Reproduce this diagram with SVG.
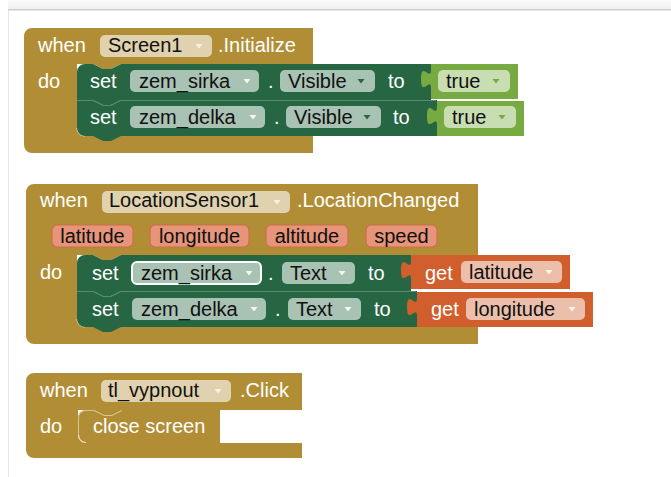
<svg xmlns="http://www.w3.org/2000/svg" width="671" height="477" viewBox="0 0 671 477">
  <style>
    text { font-family: "Liberation Sans", Arial, sans-serif; font-size: 20px; }
    .lbl { fill: #ffffff; }
    .ftx { fill: #111111; }
    .event { fill: #B18E35; }
    .setter { fill: #266643; }
    .logic { fill: #77AB41; }
    .getter { fill: #D05F2D; }
    .pill-ev { fill: #E0D2AE; }
    .pill-set { fill: #A8C2B4; }
    .pill-logic { fill: #C9DDB3; }
    .pill-get { fill: #ECBFAB; }
    .param { fill: #E6947A; stroke: #CE6E48; stroke-width: 1.2; }
    .seam { fill: none; stroke: #5A8C70; stroke-width: 1; }
    .corner { fill: none; stroke: #EFE3C2; stroke-width: 1.2; }
    .arr-light { fill: #F6F1E4; }
    .arr-white { fill: #FFFFFF; opacity: 0.85; }
    .arr-green { fill: #266643; }
    .arr-logic { fill: #77AB41; }
  </style>
  <defs>
    <linearGradient id="topband" x1="0" y1="0" x2="0" y2="1">
      <stop offset="0" stop-color="#FBFBFB"/>
      <stop offset="1" stop-color="#EFEFEF"/>
    </linearGradient>
    <!-- dropdown arrow, centred on (0,0) -->
    <polygon id="arrow" points="-3.5,-2 3.5,-2 0,2.5"/>
  </defs>

  <!-- workspace frame -->
  <rect x="0" y="0" width="671" height="477" fill="#FFFFFF"/>
  <rect x="8" y="0" width="663" height="9" fill="url(#topband)"/>
  <line x1="8" y1="9.5" x2="671" y2="9.5" stroke="#CFCFCF" stroke-width="1"/>
  <line x1="8" y1="10.5" x2="671" y2="10.5" stroke="#E6E6E6" stroke-width="1"/>
  <line x1="8.5" y1="10" x2="8.5" y2="477" stroke="#E4E4E4" stroke-width="1"/>

  <!-- when Screen1.Initialize -->
  <g id="screen1-initialize">
    <path class="event" d="M24,36 A8,8 0 0 1 32,28 H313 V64 H121 l-10,5 h-8 l-10,-5 H77 V128 A8,8 0 0 0 85,136 H313 V153 H32 A8,8 0 0 1 24,145 Z"/>
    <path class="corner" d="M77,128 A8,8 0 0 0 85,136"/>
    <text class="lbl" x="38" y="52">when</text>
    <rect class="pill-ev" x="100" y="35" width="112" height="22" rx="5"/>
    <text class="ftx" x="108" y="52">Screen1</text>
    <use href="#arrow" class="arr-light" x="199" y="46"/>
    <text class="lbl" x="218" y="52">.Initialize</text>
    <text class="lbl" x="38" y="88">do</text>
  </g>

  <g id="set-zem-sirka-visible">
    <path class="setter" d="M77,72 A8,8 0 0 1 85,64 H93 l10,5 h8 l10,-5 H431 V100 H121 l-10,5 h-8 l-10,-5 H77 Z"/>
    <text class="lbl" x="90" y="88">set</text>
    <rect class="pill-set" x="130" y="70" width="129" height="22" rx="5"/>
    <text class="ftx" x="139" y="88">zem_sirka</text>
    <use href="#arrow" class="arr-white" x="247" y="81"/>
    <text class="lbl" x="268" y="88">.</text>
    <rect class="pill-set" x="280" y="70" width="95" height="22" rx="5"/>
    <text class="ftx" x="288" y="88">Visible</text>
    <use href="#arrow" class="arr-green" x="361" y="81"/>
    <text class="lbl" x="388" y="88">to</text>
  </g>

  <g id="true-1">
    <path class="logic" d="M431,64 H518 V99 H431 V88 C431,76 421,98 421,79 C421,60 431,82 431,70 Z"/>
    <rect class="pill-logic" x="438" y="70" width="72" height="22" rx="5"/>
    <text class="ftx" x="446" y="88">true</text>
    <use href="#arrow" class="arr-logic" x="496" y="81"/>
  </g>

  <g id="set-zem-delka-visible">
    <path class="setter" d="M77,100 H93 l10,5 h8 l10,-5 H437 V136 H121 l-10,5 h-8 l-10,-5 H85 A8,8 0 0 1 77,128 Z"/>
    <path class="setter" d="M93,99 l10,5 h8 l10,-5 Z"/>
    <path class="seam" d="M77,100.5 H93 l10,5 h8 l10,-5 H436"/>
    <text class="lbl" x="90" y="124">set</text>
    <rect class="pill-set" x="130" y="106" width="135" height="22" rx="5"/>
    <text class="ftx" x="139" y="124">zem_delka</text>
    <use href="#arrow" class="arr-white" x="253" y="117"/>
    <text class="lbl" x="274" y="124">.</text>
    <rect class="pill-set" x="286" y="106" width="95" height="22" rx="5"/>
    <text class="ftx" x="294" y="124">Visible</text>
    <use href="#arrow" class="arr-green" x="367" y="117"/>
    <text class="lbl" x="393" y="124">to</text>
  </g>

  <g id="true-2">
    <path class="logic" d="M437,101 H524 V136 H437 V125 C437,113 427,135 427,116 C427,97 437,119 437,107 Z"/>
    <rect class="pill-logic" x="444" y="106" width="72" height="22" rx="5"/>
    <text class="ftx" x="452" y="124">true</text>
    <use href="#arrow" class="arr-logic" x="502" y="117"/>
  </g>

  <!-- when LocationSensor1.LocationChanged -->
  <g id="locationsensor1-locationchanged">
    <path class="event" d="M26,192 A8,8 0 0 1 34,184 H478 V255 H121 l-10,5 h-8 l-10,-5 H77 V319 A8,8 0 0 0 85,327 H478 V344 H34 A8,8 0 0 1 26,336 Z"/>
    <path class="corner" d="M77,319 A8,8 0 0 0 85,327"/>
    <text class="lbl" x="40" y="207">when</text>
    <rect class="pill-ev" x="102" y="191" width="188" height="22" rx="5"/>
    <text class="ftx" x="109" y="207">LocationSensor1</text>
    <use href="#arrow" class="arr-light" x="277" y="202"/>
    <text class="lbl" x="297" y="207">.LocationChanged</text>
    <rect class="param" x="52" y="225" width="81" height="22" rx="5"/>
    <text class="ftx" x="92.5" y="243" text-anchor="middle">latitude</text>
    <rect class="param" x="150" y="225" width="99" height="22" rx="5"/>
    <text class="ftx" x="199.5" y="243" text-anchor="middle">longitude</text>
    <rect class="param" x="266" y="225" width="82" height="22" rx="5"/>
    <text class="ftx" x="307" y="243" text-anchor="middle">altitude</text>
    <rect class="param" x="366" y="225" width="71" height="22" rx="5"/>
    <text class="ftx" x="401.5" y="243" text-anchor="middle">speed</text>
    <text class="lbl" x="40" y="279">do</text>
  </g>

  <g id="set-zem-sirka-text">
    <path class="setter" d="M77,263 A8,8 0 0 1 85,255 H93 l10,5 h8 l10,-5 H411 V291 H121 l-10,5 h-8 l-10,-5 H77 Z"/>
    <text class="lbl" x="92" y="280">set</text>
    <rect class="pill-set" x="132" y="262" width="129" height="22" rx="5" stroke="#FFFFFF" stroke-width="2"/>
    <text class="ftx" x="141" y="280">zem_sirka</text>
    <use href="#arrow" class="arr-white" x="249" y="273"/>
    <text class="lbl" x="268" y="280">.</text>
    <rect class="pill-set" x="282" y="262" width="73" height="22" rx="5"/>
    <text class="ftx" x="290" y="280">Text</text>
    <use href="#arrow" class="arr-white" x="342" y="273"/>
    <text class="lbl" x="368" y="280">to</text>
  </g>

  <g id="get-latitude">
    <path class="getter" d="M411,255 H570 V289 H411 V279 C411,267 401,289 401,270 C401,251 411,273 411,261 Z"/>
    <text class="lbl" x="425" y="280">get</text>
    <rect class="pill-get" x="461" y="261" width="101" height="22" rx="5"/>
    <text class="ftx" x="469" y="279">latitude</text>
    <use href="#arrow" class="arr-white" x="549" y="272"/>
  </g>

  <g id="set-zem-delka-text">
    <path class="setter" d="M77,291 H93 l10,5 h8 l10,-5 H417 V327 H121 l-10,5 h-8 l-10,-5 H85 A8,8 0 0 1 77,319 Z"/>
    <path class="setter" d="M93,290 l10,5 h8 l10,-5 Z"/>
    <path class="seam" d="M77,291.5 H93 l10,5 h8 l10,-5 H416"/>
    <text class="lbl" x="92" y="316">set</text>
    <rect class="pill-set" x="132" y="298" width="134" height="22" rx="5"/>
    <text class="ftx" x="141" y="316">zem_delka</text>
    <use href="#arrow" class="arr-white" x="254" y="309"/>
    <text class="lbl" x="275" y="316">.</text>
    <rect class="pill-set" x="288" y="298" width="73" height="22" rx="5"/>
    <text class="ftx" x="296" y="316">Text</text>
    <use href="#arrow" class="arr-white" x="348" y="309"/>
    <text class="lbl" x="374" y="316">to</text>
  </g>

  <g id="get-longitude">
    <path class="getter" d="M417,292 H593 V327 H417 V316 C417,304 407,326 407,307 C407,288 417,310 417,298 Z"/>
    <text class="lbl" x="431" y="316">get</text>
    <rect class="pill-get" x="466" y="298" width="119" height="22" rx="5"/>
    <text class="ftx" x="474" y="316">longitude</text>
    <use href="#arrow" class="arr-white" x="572" y="309"/>
  </g>

  <!-- when tl_vypnout.Click -->
  <g id="tl-vypnout-click">
    <path class="event" d="M26,381 A8,8 0 0 1 34,373 H302 V410 H122 l-10,5 h-8 l-10,-5 H78 V435 A8,8 0 0 0 86,443 H302 V458 H34 A8,8 0 0 1 26,450 Z"/>
    <text class="lbl" x="40" y="397">when</text>
    <rect class="pill-ev" x="101" y="380" width="130" height="22" rx="5"/>
    <text class="ftx" x="108" y="397">tl_vypnout</text>
    <use href="#arrow" class="arr-light" x="218" y="391"/>
    <text class="lbl" x="240" y="397">.Click</text>
    <text class="lbl" x="40" y="433">do</text>
  </g>

  <g id="close-screen">
    <path class="event" d="M78,418 A8,8 0 0 1 86,410 H94 l10,5 h8 l10,-5 H220 V443 H122 l-10,5 h-8 l-10,-5 H86 A8,8 0 0 1 78,435 Z"/>
    <path fill="none" stroke="#D9C48F" stroke-width="1" d="M78.5,435 V418 A7.5,7.5 0 0 1 86,410.5 H94 l10,5 h8 l10,-5"/>
    <path class="corner" d="M78.5,435 A7.5,7.5 0 0 0 86,442.5"/>
    <text class="lbl" x="93" y="433">close screen</text>
  </g>
</svg>
